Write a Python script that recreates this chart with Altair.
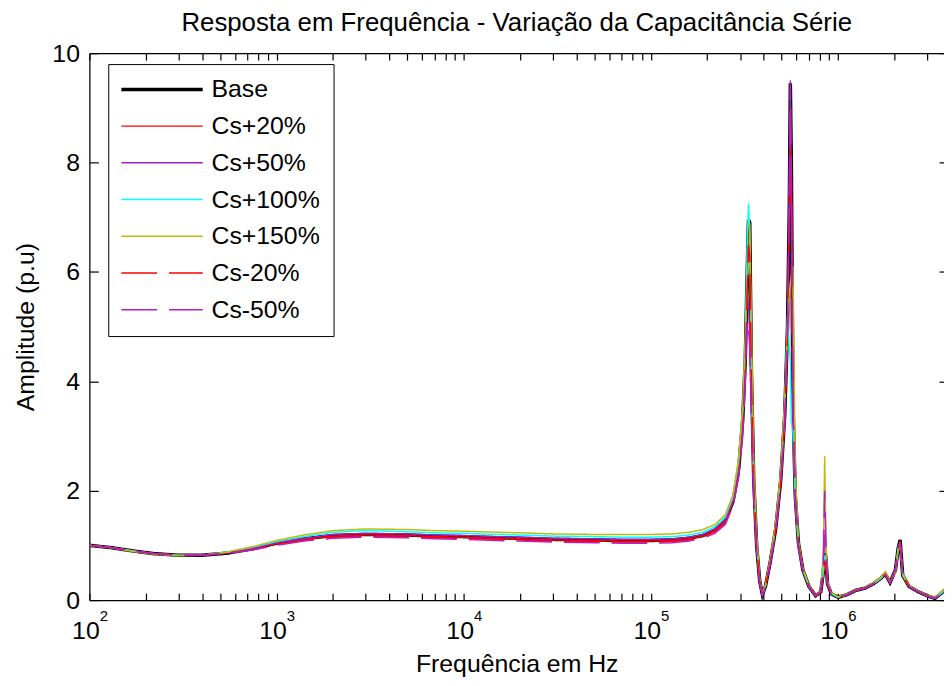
import altair as alt
import pandas as pd

FONT = "Liberation Sans"

FREQ = [100, 130, 170, 220, 300, 400, 550, 750, 1000, 1400, 2000, 3000, 5000, 7000,
        10000, 15000, 20000, 30000, 50000, 70000, 100000, 130000, 160000, 190000,
        220000, 250000, 275000, 295000, 310000, 320000, 327000, 333000, 338000,
        345000, 355000, 368000, 382000, 395000, 410000, 435000, 465000, 495000,
        520000, 538000, 550000, 557000, 564000, 575000, 592000, 615000, 650000,
        700000, 760000, 810000, 835000, 850000, 862000, 880000, 920000, 1000000,
        1120000, 1250000, 1400000, 1550000, 1700000, 1790000, 1900000, 2030000,
        2100000, 2150000, 2220000, 2400000, 2700000, 3000000, 3300000, 3550000, 3800000]

BASE = [1.00, 0.96, 0.90, 0.85, 0.82, 0.82, 0.86, 0.94, 1.04, 1.12, 1.18, 1.20, 1.19, 1.17,
        1.16, 1.14, 1.13, 1.11, 1.10, 1.09, 1.09, 1.10, 1.13, 1.18,
        1.28, 1.45, 1.80, 2.40, 3.30, 4.40, 5.90, 6.95, 6.90,
        4.20, 2.20, 1.00, 0.35, 0.10, 0.25, 0.70, 1.30, 2.20,
        3.40, 5.00, 7.20, 9.45, 8.00, 3.60, 1.90, 1.05, 0.55,
        0.25, 0.08, 0.15, 0.50, 0.85, 0.80, 0.30, 0.12, 0.05,
        0.10, 0.18, 0.22, 0.30, 0.40, 0.48, 0.32, 0.55,
        0.95, 1.10, 0.45, 0.25, 0.15, 0.08, 0.03, 0.12, 0.20]

CS_P20 = [1.00, 0.96, 0.90, 0.85, 0.82, 0.82, 0.86, 0.94, 1.03, 1.11, 1.17, 1.19, 1.18, 1.16,
          1.15, 1.13, 1.12, 1.10, 1.09, 1.08, 1.08, 1.09, 1.12, 1.17,
          1.27, 1.43, 1.78, 2.35, 3.20, 4.30, 5.70, 6.40, 6.60,
          4.40, 2.30, 1.05, 0.38, 0.10, 0.24, 0.68, 1.28, 2.15,
          3.30, 4.90, 7.00, 7.40, 7.70, 5.00, 1.95, 1.05, 0.55,
          0.25, 0.08, 0.14, 0.45, 0.65, 0.62, 0.30, 0.12, 0.05,
          0.10, 0.18, 0.22, 0.30, 0.40, 0.47, 0.32, 0.55,
          0.92, 1.08, 0.45, 0.25, 0.15, 0.08, 0.03, 0.12, 0.20]

CS_P50 = [1.00, 0.96, 0.90, 0.85, 0.82, 0.82, 0.87, 0.95, 1.05, 1.13, 1.20, 1.22, 1.21, 1.19,
          1.18, 1.16, 1.15, 1.13, 1.12, 1.11, 1.11, 1.12, 1.15, 1.20,
          1.30, 1.47, 1.82, 2.45, 3.35, 4.50, 5.60, 5.40, 4.80,
          3.60, 2.00, 0.95, 0.32, 0.10, 0.26, 0.72, 1.32, 2.25,
          3.50, 5.10, 7.60, 9.40, 7.60, 3.40, 1.85, 1.02, 0.55,
          0.25, 0.08, 0.15, 0.55, 1.20, 1.00, 0.32, 0.12, 0.05,
          0.10, 0.18, 0.22, 0.30, 0.40, 0.48, 0.32, 0.56,
          0.98, 1.05, 0.45, 0.25, 0.15, 0.08, 0.03, 0.12, 0.20]

CS_P100 = [1.00, 0.96, 0.90, 0.85, 0.82, 0.82, 0.88, 0.97, 1.07, 1.16, 1.24, 1.27, 1.25, 1.23,
           1.22, 1.20, 1.19, 1.17, 1.16, 1.15, 1.15, 1.16, 1.19, 1.24,
           1.34, 1.52, 1.88, 2.55, 3.50, 4.80, 6.40, 7.25, 6.70,
           4.00, 2.10, 1.00, 0.34, 0.10, 0.26, 0.72, 1.35, 2.30,
           3.60, 5.20, 4.60, 4.40, 3.30, 3.10, 1.80, 1.00, 0.55,
           0.25, 0.08, 0.15, 0.50, 0.82, 0.75, 0.30, 0.12, 0.05,
           0.10, 0.18, 0.22, 0.30, 0.40, 0.48, 0.32, 0.55,
           0.95, 1.05, 0.45, 0.25, 0.15, 0.08, 0.03, 0.12, 0.20]

CS_P150 = [1.00, 0.96, 0.89, 0.84, 0.81, 0.82, 0.88, 0.98, 1.09, 1.19, 1.27, 1.30, 1.29, 1.27,
           1.26, 1.24, 1.23, 1.21, 1.20, 1.20, 1.20, 1.21, 1.24, 1.29,
           1.38, 1.56, 1.92, 2.60, 3.50, 4.70, 5.80, 6.10, 6.90,
           5.00, 2.60, 1.20, 0.40, 0.12, 0.28, 0.75, 1.40, 2.35,
           3.60, 5.00, 5.60, 5.80, 5.90, 6.10, 2.40, 1.10, 0.58,
           0.27, 0.09, 0.18, 0.80, 2.63, 1.20, 0.35, 0.14, 0.06,
           0.11, 0.19, 0.23, 0.32, 0.42, 0.52, 0.34, 0.50,
           0.90, 1.00, 0.48, 0.27, 0.16, 0.09, 0.05, 0.15, 0.24]

CS_M20 = [1.00, 0.96, 0.90, 0.85, 0.82, 0.82, 0.86, 0.93, 1.02, 1.10, 1.15, 1.17, 1.16, 1.14,
          1.13, 1.11, 1.10, 1.08, 1.07, 1.06, 1.06, 1.07, 1.10, 1.15,
          1.25, 1.41, 1.75, 2.30, 3.10, 4.20, 5.50, 6.50, 6.30,
          4.00, 2.10, 0.98, 0.34, 0.10, 0.24, 0.68, 1.28, 2.15,
          3.30, 4.90, 7.40, 9.00, 7.20, 3.50, 1.90, 1.02, 0.54,
          0.25, 0.08, 0.14, 0.45, 0.70, 0.66, 0.28, 0.12, 0.05,
          0.10, 0.18, 0.22, 0.30, 0.40, 0.47, 0.32, 0.55,
          0.92, 1.08, 0.45, 0.25, 0.15, 0.08, 0.03, 0.12, 0.20]

CS_M50 = [1.00, 0.96, 0.90, 0.85, 0.82, 0.82, 0.85, 0.92, 1.00, 1.08, 1.13, 1.15, 1.14, 1.12,
          1.11, 1.09, 1.08, 1.06, 1.05, 1.04, 1.04, 1.05, 1.08, 1.13,
          1.22, 1.38, 1.72, 2.25, 3.00, 4.00, 5.10, 5.00, 4.60,
          3.40, 1.90, 0.90, 0.32, 0.09, 0.23, 0.66, 1.25, 2.10,
          3.25, 4.85, 7.50, 9.50, 7.80, 3.50, 1.88, 1.00, 0.53,
          0.24, 0.08, 0.16, 0.60, 2.00, 1.10, 0.30, 0.12, 0.05,
          0.10, 0.18, 0.22, 0.30, 0.40, 0.47, 0.32, 0.55,
          0.95, 1.05, 0.45, 0.25, 0.15, 0.08, 0.03, 0.12, 0.20]

SERIES = ["Base", "Cs+20%", "Cs+50%", "Cs+100%", "Cs+150%", "Cs-20%", "Cs-50%"]
VALUES = [BASE, CS_P20, CS_P50, CS_P100, CS_P150, CS_M20, CS_M50]
COLORS = ["#000000", "#ff0000", "#a01fc4", "#00ffff", "#bcbc10", "#ff0000", "#b41fc8"]
DASHES = [[1, 0], [1, 0], [1, 0], [1, 0], [1, 0], [36, 12], [36, 12]]
WIDTHS = [3.5, 1.5, 1.5, 1.5, 1.5, 1.5, 1.5]

X_MAJOR = [100, 1000, 10000, 100000, 1000000]
X_ALL = [100, 200, 300, 400, 500, 600, 700, 800, 900,
         1000, 2000, 3000, 4000, 5000, 6000, 7000, 8000, 9000,
         10000, 20000, 30000, 40000, 50000, 60000, 70000, 80000, 90000,
         100000, 200000, 300000, 400000, 500000, 600000, 700000, 800000, 900000,
         1000000, 2000000, 3000000]
Y_TICKS = [0, 2, 4, 6, 8, 10]

rows = []
for name, vals in zip(SERIES, VALUES):
    for f, v in zip(FREQ, vals):
        rows.append({"f": f, "a": v, "s": name})
df = pd.DataFrame(rows)

xs = alt.Scale(type="log", domain=[100, 3690000], nice=False)
ys = alt.Scale(domain=[0, 10], nice=False, zero=False)
cscale = alt.Scale(domain=SERIES, range=COLORS)
dscale = alt.Scale(domain=SERIES, range=DASHES)

legend = alt.Legend(
    title=None, orient="none", legendX=19, legendY=11, direction="vertical",
    strokeColor="black", fillColor="white", padding=13,
    labelFont=FONT, labelFontSize=25, labelColor="black", labelLimit=400,
    symbolType="M-1.2,0H6.8", symbolSize=420, labelOffset=66,
    rowPadding=11,
    symbolStrokeWidth={"expr": "datum.value == 'Base' ? 3.5 : 1.5"},
)


def ax(**kw):
    base = dict(grid=False, labelFont=FONT, titleFont=FONT, labelColor="black",
                titleColor="black", tickColor="black", domainColor="black",
                labelFlush=False, labelOverlap=False, domainWidth=1.2, tickWidth=1.2)
    base.update(kw)
    return alt.Axis(**base)


XAXES = [
    ax(orient="bottom", values=X_MAJOR, labelExpr="'10'", labelFontSize=25,
       labelPadding=19, labelOffset=-4, ticks=False, domain=True,
       title="Frequência em Hz", titleFontSize=25, titleFontWeight="normal",
       titlePadding=8),
    ax(orient="bottom", offset=-7, values=X_ALL, ticks=True, tickSize=7,
       labels=False, domain=False, title=None),
    ax(orient="bottom", values=X_MAJOR,
       labelExpr="format(round(log(datum.value)/LN10), 'd')", labelFontSize=15,
       labelPadding=9, labelOffset=14, ticks=False, domain=False, title=None),
    ax(orient="top", values=X_MAJOR, labels=False, ticks=False, domain=True, title=None),
    ax(orient="top", offset=-7, values=X_ALL, ticks=True, tickSize=7,
       labels=False, domain=False, title=None),
    None,
    None,
]
YAXES = [
    ax(orient="left", values=Y_TICKS, labelFontSize=25, labelPadding=10,
       ticks=False, domain=True, title="Amplitude (p.u)", titleFontSize=25,
       titleFontWeight="normal", titlePadding=14),
    ax(orient="left", offset=-9, values=Y_TICKS, ticks=True, tickSize=9,
       labels=False, domain=False, title=None),
    ax(orient="right", offset=-5, values=Y_TICKS, ticks=True, tickSize=5,
       labels=False, domain=False, title=None),
    None, None, None, None,
]

layers = []
for i, name in enumerate(SERIES):
    layers.append(
        alt.Chart(df)
        .transform_filter(alt.datum.s == name)
        .mark_line(clip=True, strokeWidth=WIDTHS[i])
        .encode(
            x=alt.X("f:Q", scale=xs, axis=XAXES[i]),
            y=alt.Y("a:Q", scale=ys, axis=YAXES[i]),
            color=alt.Color("s:N", scale=cscale, legend=legend),
            strokeDash=alt.StrokeDash("s:N", scale=dscale, legend=legend),
        )
    )

chart = (
    alt.layer(*layers)
    .resolve_axis(x="independent", y="independent")
    .properties(
        width=861, height=551,
        autosize=alt.AutoSizeParams(type="none"),
        padding={"left": 82, "top": 43, "right": 0, "bottom": 77},
        title=alt.TitleParams(
            text="Resposta em Frequência - Variação da Capacitância Série",
            font=FONT, fontSize=26, fontWeight="normal", color="black",
            anchor="middle", frame="group", baseline="alphabetic", offset=7, dy=23,
        ),
    )
    .configure_view(strokeOpacity=0)
    .configure(background="white")
)

chart.save("out.html", embed_options={"renderer": "svg", "actions": False})
